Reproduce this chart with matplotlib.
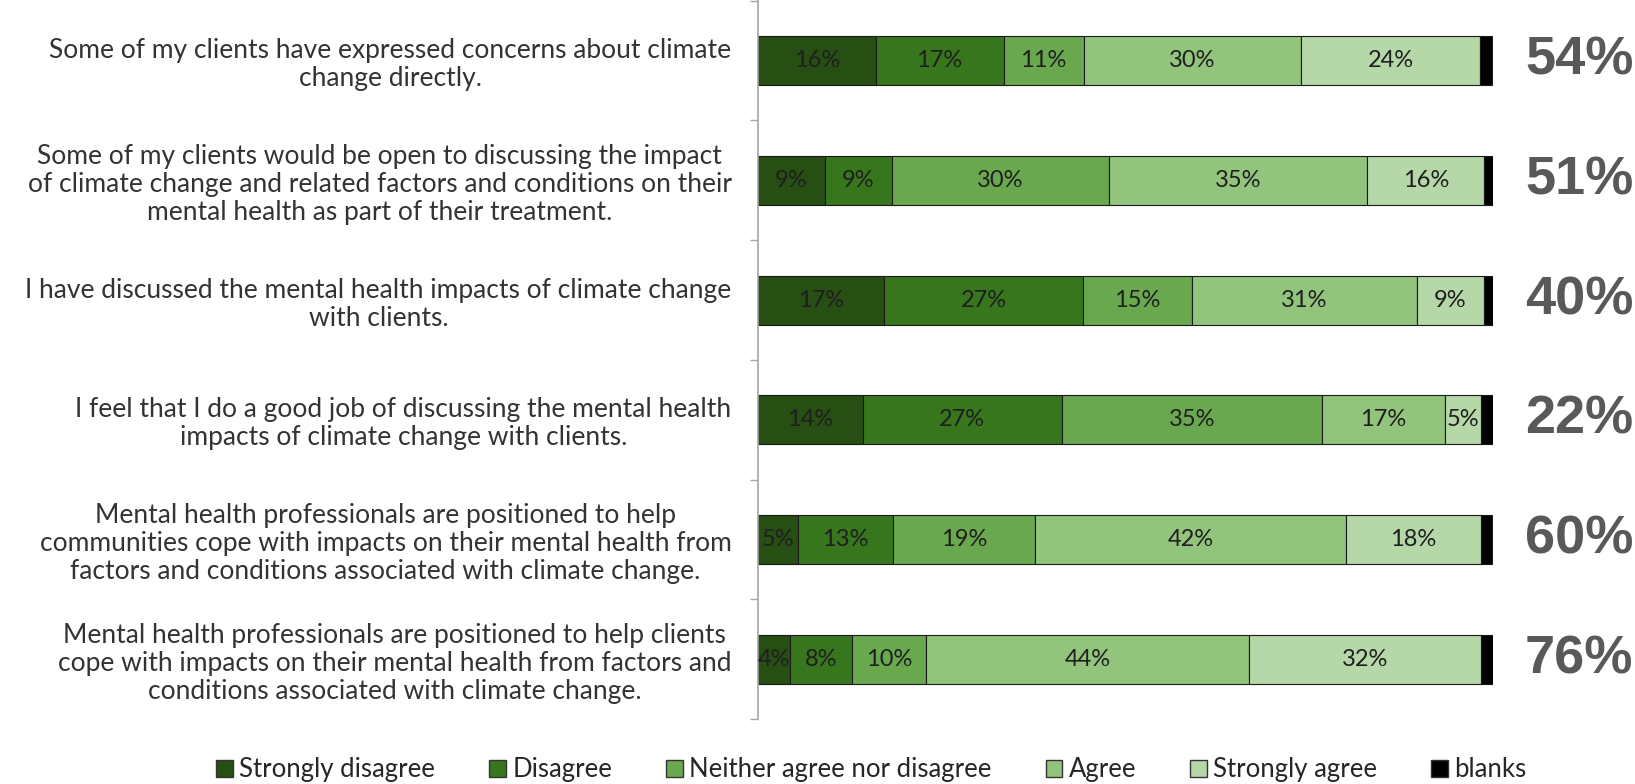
import numpy as np
import matplotlib.pyplot as plt
from matplotlib.patches import Patch
from matplotlib.transforms import blended_transform_factory

plt.rcParams['font.family'] = ['Lato', 'DejaVu Sans']

# statements (top to bottom)
statements = [
    'Some of my clients have expressed concerns about climate\nchange directly.',
    'Some of my clients would be open to discussing the impact\nof climate change and related factors and conditions on their\nmental health as part of their treatment.',
    'I have discussed the mental health impacts of climate change\nwith clients.',
    'I feel that I do a good job of discussing the mental health\nimpacts of climate change with clients.',
    'Mental health professionals are positioned to help\ncommunities cope with impacts on their mental health from\nfactors and conditions associated with climate change.',
    'Mental health professionals are positioned to help clients\ncope with impacts on their mental health from factors and\nconditions associated with climate change.',
]

responses = ['Strongly disagree', 'Disagree', 'Neither agree nor disagree',
             'Agree', 'Strongly agree', 'blanks']
colors = ['#274e13', '#38761d', '#6aa84f', '#93c47d', '#b6d7a8', '#000000']

# shares in % per statement
strongly_disagree = [16.0, 9.1, 17.2, 14.3, 5.4, 4.4]
disagree = [17.4, 9.1, 27.0, 27.0, 12.9, 8.4]
neither = [10.9, 29.5, 14.8, 35.4, 19.4, 10.1]
agree = [29.6, 35.2, 30.6, 16.7, 42.3, 43.9]
strongly_agree = [24.3, 15.9, 9.1, 5.0, 18.3, 31.6]
blanks = [1.7, 1.3, 1.4, 1.6, 1.6, 1.6]

# net agreement shown on the right
net_agree = [54, 51, 40, 22, 60, 76]

series = [strongly_disagree, disagree, neither, agree, strongly_agree, blanks]

fig = plt.figure(figsize=(16.35, 7.84), dpi=100)
ax = fig.add_axes([0.4636, 0.0829, 0.4496, 0.9161])

y = np.arange(len(statements))
left = np.zeros(len(statements))
for name, vals, col in zip(responses, series, colors):
    vals = np.array(vals)
    ax.barh(y, vals, left=left, height=0.41, color=col,
            edgecolor='#1a1a1a', linewidth=0.8, label=name)
    if name != 'blanks':
        for yi, l, v in zip(y, left, vals):
            ax.text(l + v / 2, yi, f'{round(v):d}%', ha='center', va='center',
                    fontsize=17, color='#1f1f1f')
    left += vals

ax.set_xlim(0, 100)
ax.set_ylim(len(statements) - 0.5, -0.5)

# category labels + boundary ticks
ax.set_yticks(y)
ax.set_yticklabels(statements, fontsize=19, color='#333333', linespacing=1.15)
for t in ax.get_yticklabels():
    t.set_multialignment('center')
ax.tick_params(axis='y', which='major', length=0, pad=19)
ax.set_yticks(np.arange(-0.5, len(statements)), minor=True)
ax.tick_params(axis='y', which='minor', length=6, color='#a6a6a6', width=1)

ax.xaxis.set_visible(False)
for s in ['top', 'right', 'bottom']:
    ax.spines[s].set_visible(False)
ax.spines['left'].set_color('#a6a6a6')
ax.spines['left'].set_linewidth(1.2)

# net agree totals
trans = blended_transform_factory(fig.transFigure, ax.transData)
for yi, p in zip(y, net_agree):
    ax.text(0.999, yi, f'{p}%', transform=trans, ha='right', va='center',
            fontsize=39, fontweight='bold', color='#595959',
            family=['Liberation Sans', 'DejaVu Sans'], clip_on=False)

handles = [Patch(facecolor=c, edgecolor='#333333', linewidth=1) for c in colors]
fig.legend(handles, responses, loc='center', bbox_to_anchor=(0.533, 0.018),
           ncol=6, frameon=False, fontsize=18.5, handlelength=0.65,
           handleheight=0.65, handletextpad=0.25, columnspacing=2.1,
           labelcolor='#262626')

fig.savefig('out.png', dpi=100)
